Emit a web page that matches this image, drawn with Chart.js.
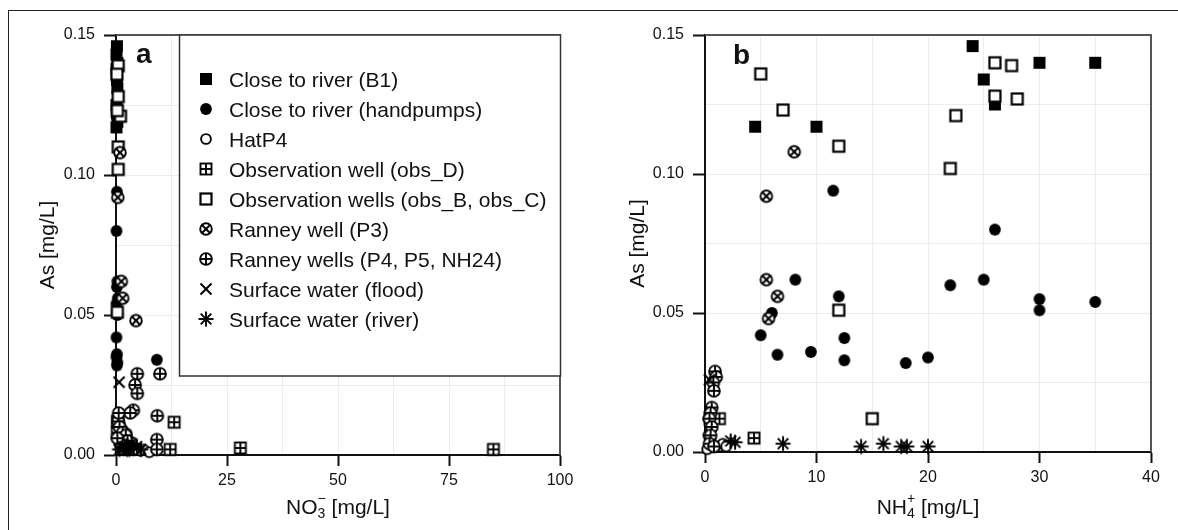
<!DOCTYPE html>
<html>
<head>
<meta charset="utf-8">
<script src="https://cdn.jsdelivr.net/npm/chart.js@4.4.1/dist/chart.umd.min.js"></script>
<style>
  html, body { margin: 0; padding: 0; background: #fff; }
  #page { position: relative; width: 1178px; height: 530px; overflow: hidden; }
  #frame { position: absolute; left: 8px; top: 10px; width: 1300px; height: 700px;
           border-top: 1.5px solid #222; border-left: 1.5px solid #222; }
  canvas { position: absolute; top: 0; }
  #chartA { left: 0; }
  #chartB { left: 590px; }
</style>
</head>
<body>
<div id="page">
  <div id="frame"></div>
  <canvas id="chartA" width="590" height="530"></canvas>
  <canvas id="chartB" width="588" height="530"></canvas>
</div>
<script>
// --- series / tick labels ---
const seriesNames = [
  'Close to river (B1)',
  'Close to river (handpumps)',
  'HatP4',
  'Observation well (obs_D)',
  'Observation wells (obs_B, obs_C)',
  'Ranney well (P3)',
  'Ranney wells (P4, P5, NH24)',
  'Surface water (flood)',
  'Surface water (river)'
];
const markerKinds = ['sqFill', 'circFill', 'circOpen', 'sqPlus', 'sqOpen', 'circX', 'circPlus', 'cross', 'star'];

const no3Ticks = [0, 25, 50, 75, 100];
const nh4Ticks = [0, 10, 20, 30, 40];
const asTicks = [0, 0.05, 0.10, 0.15];

// panel a: [NO3, As] in mg/L
const no3_closeB1 = [[0.2,0.146],[0.1,0.143],[0.3,0.140],[0.1,0.138],[0.2,0.134],[0.3,0.131],[0.1,0.125],[0.2,0.122],[0.3,0.119],[0.1,0.117]];
const no3_handpumps = [[0.2,0.094],[0.1,0.080],[0.3,0.062],[0.2,0.060],[0.4,0.056],[0.1,0.054],[0.2,0.051],[0.3,0.050],[0.1,0.042],[0.2,0.036],[0.1,0.035],[0.3,0.033],[0.2,0.032],[9.2,0.034]];
const no3_hatP4 = [[0.9,0.011],[1.5,0.009],[0.5,0.008],[2.4,0.0077],[1.2,0.006],[2.0,0.004],[3.5,0.0047],[4.6,0.0025],[3.0,0.002],[5.5,0.0015],[6.2,0.002],[1.0,0.002],[7.5,0.001]];
const no3_obsD = [[0.4,0.012],[0.3,0.008],[13.1,0.0117],[12.2,0.002],[28.0,0.0025],[85.0,0.002]];
const no3_obsBC = [[0.5,0.139],[0.2,0.136],[0.5,0.128],[1.0,0.121],[0.3,0.123],[0.5,0.110],[0.5,0.102],[0.3,0.051],[0.4,0.012]];
const no3_ranneyP3 = [[0.9,0.108],[0.4,0.092],[1.2,0.062],[1.5,0.056],[4.5,0.048]];
const no3_ranneyWells = [[4.8,0.029],[9.9,0.029],[4.3,0.025],[4.8,0.022],[3.9,0.016],[3.2,0.015],[9.3,0.014],[9.2,0.0055],[9.2,0.002],[0.5,0.012],[0.8,0.010],[1.5,0.008],[2.2,0.007],[2.6,0.005],[1.0,0.004],[3.2,0.003],[0.3,0.006],[1.8,0.002],[4.0,0.002],[0.6,0.015]];
const no3_flood = [[0.7,0.026]];
const no3_river = [[1.5,0.003],[2.5,0.002],[3.5,0.004],[4.7,0.003],[5.6,0.002],[0.8,0.002],[2.0,0.003],[3.0,0.002]];

// panel b: [NH4, As] in mg/L
const nh4_closeB1 = [[4.5,0.117],[10,0.117],[24,0.146],[25,0.134],[26,0.125],[30,0.140],[35,0.140]];
const nh4_handpumps = [[5,0.042],[6,0.050],[6.5,0.035],[8.1,0.062],[9.5,0.036],[11.5,0.094],[12,0.056],[12.5,0.041],[12.5,0.033],[18,0.032],[20,0.034],[22,0.060],[25,0.062],[26,0.080],[30,0.055],[30,0.051],[35,0.054]];
const nh4_hatP4 = [[0.3,0.012],[0.4,0.010],[0.5,0.008],[0.3,0.006],[0.5,0.004],[0.7,0.002],[1.0,0.002],[1.3,0.002],[1.6,0.003],[0.2,0.001],[0.6,0.011],[0.4,0.014],[1.9,0.002]];
const nh4_obsD = [[1.3,0.012],[4.4,0.005]];
const nh4_obsBC = [[5,0.136],[7,0.123],[12,0.110],[12,0.051],[15,0.012],[22,0.102],[22.5,0.121],[26,0.128],[26,0.140],[27.5,0.139],[28,0.127]];
const nh4_ranneyP3 = [[5.5,0.062],[6.5,0.056],[5.7,0.048],[8,0.108],[5.5,0.092]];
const nh4_ranneyWells = [[0.9,0.029],[1.0,0.027],[0.75,0.025],[0.8,0.022],[0.6,0.016],[0.5,0.014],[0.4,0.012],[0.6,0.009],[0.5,0.006],[0.4,0.003],[0.8,0.002]];
const nh4_flood = [[0.4,0.026]];
const nh4_river = [[2.3,0.004],[2.7,0.0035],[7,0.003],[14,0.002],[16,0.003],[17.6,0.002],[18.1,0.002],[20,0.002]];

const FONT = '"Liberation Sans", Arial, Helvetica, sans-serif';
Chart.defaults.font.family = FONT;
Chart.defaults.color = '#111';

// --- marker glyphs drawn once on small canvases ---
function makeMarker(kind) {
  const c = document.createElement('canvas');
  c.width = 20; c.height = 20;
  const g = c.getContext('2d');
  const m = 10;
  g.strokeStyle = '#000';
  g.fillStyle = '#000';
  g.lineWidth = 1.9;
  const line = (x1, y1, x2, y2) => { g.beginPath(); g.moveTo(m + x1, m + y1); g.lineTo(m + x2, m + y2); g.stroke(); };
  const ring = (r) => { g.beginPath(); g.arc(m, m, r, 0, Math.PI * 2); g.fillStyle = '#fff'; g.fill(); g.stroke(); };
  switch (kind) {
    case 'sqFill': g.fillRect(m - 6, m - 6, 12, 12); break;
    case 'circFill': g.beginPath(); g.arc(m, m, 5.9, 0, Math.PI * 2); g.fill(); break;
    case 'circOpen': ring(4.9); break;
    case 'sqPlus':
      g.fillStyle = '#fff'; g.fillRect(m - 5.5, m - 5.5, 11, 11); g.strokeRect(m - 5.5, m - 5.5, 11, 11);
      line(-5.5, 0, 5.5, 0); line(0, -5.5, 0, 5.5); break;
    case 'sqOpen':
      g.lineWidth = 2.2; g.fillStyle = '#fff'; g.fillRect(m - 5.5, m - 5.5, 11, 11); g.strokeRect(m - 5.5, m - 5.5, 11, 11); break;
    case 'circX': ring(5.8); line(-4, -4, 4, 4); line(-4, 4, 4, -4); break;
    case 'circPlus': ring(5.9); line(-5.9, 0, 5.9, 0); line(0, -5.9, 0, 5.9); break;
    case 'cross': line(-5.5, -5.5, 5.5, 5.5); line(-5.5, 5.5, 5.5, -5.5); break;
    case 'star': line(-7.5, 0, 7.5, 0); line(0, -7.5, 0, 7.5); line(-5.3, -5.3, 5.3, 5.3); line(-5.3, 5.3, 5.3, -5.3); break;
  }
  return c;
}
const markers = markerKinds.map(makeMarker);

const isTick = (list, v) => list.some(t => Math.abs(t - v) < 1e-9);

// --- small plugins: plot frame, panel letter, ion axis title, legend box ---
const plotFrame = {
  id: 'plotFrame',
  beforeDatasetsDraw(chart) {
    const { ctx, chartArea: a } = chart;
    ctx.save();
    ctx.strokeStyle = '#555';
    ctx.lineWidth = 2;
    ctx.beginPath();
    ctx.moveTo(a.left, a.top);
    ctx.lineTo(a.right, a.top);
    ctx.lineTo(a.right, a.bottom);
    ctx.stroke();
    ctx.restore();
  }
};

function letterPlugin(letter, x, y) {
  return {
    id: 'panelLetter',
    afterDraw(chart) {
      const ctx = chart.ctx;
      ctx.save();
      ctx.font = 'bold 28px ' + FONT;
      ctx.fillStyle = '#111';
      ctx.textBaseline = 'alphabetic';
      ctx.fillText(letter, x, y);
      ctx.restore();
    }
  };
}

function ionTitlePlugin(base, sub, sup, rest) {
  return {
    id: 'ionTitle',
    afterDraw(chart) {
      const { ctx, chartArea: a } = chart;
      const big = '21px ' + FONT, small = '14px ' + FONT;
      ctx.save();
      ctx.fillStyle = '#111';
      ctx.textAlign = 'left';
      ctx.textBaseline = 'alphabetic';
      ctx.font = big;
      const wBase = ctx.measureText(base).width, wRest = ctx.measureText(rest).width;
      ctx.font = small;
      const wSub = Math.max(ctx.measureText(sub).width, ctx.measureText(sup).width);
      let x = (a.left + a.right) / 2 - (wBase + wSub + wRest) / 2;
      const y = 514;
      ctx.font = big; ctx.fillText(base, x, y); x += wBase;
      ctx.font = small; ctx.fillText(sub, x, y + 4); ctx.fillText(sup, x, y - 11); x += wSub;
      ctx.font = big; ctx.fillText(rest, x, y);
      ctx.restore();
    }
  };
}

const legendBox = {
  id: 'legendBox',
  afterDraw(chart) {
    const ctx = chart.ctx;
    ctx.save();
    ctx.fillStyle = '#fff';
    ctx.fillRect(179.5, 35, 381, 341);
    ctx.strokeStyle = '#333';
    ctx.lineWidth = 1.5;
    ctx.strokeRect(179.5, 35, 381, 341);
    ctx.font = '21px ' + FONT;
    ctx.fillStyle = '#111';
    ctx.textBaseline = 'alphabetic';
    seriesNames.forEach((name, i) => {
      const cy = 79 + 30 * i;
      const mk = markers[i];
      ctx.drawImage(mk, 206 - mk.width / 2, cy - mk.height / 2);
      ctx.fillText(name, 229, cy + 7.5);
    });
    ctx.restore();
  }
};

// --- chart builder ---
function buildPanel(canvasId, series, xMax, xStep, xTicks, area, canvasW, extraPlugins) {
  return new Chart(document.getElementById(canvasId), {
    type: 'scatter',
    data: {
      datasets: series.map((pts, i) => ({
        label: seriesNames[i],
        data: pts.map(p => ({ x: p[0], y: p[1] })),
        pointStyle: markers[i],
        pointRadius: 6,
        pointHoverRadius: 6,
        order: -i,
        clip: false
      }))
    },
    options: {
      responsive: false,
      animation: false,
      events: [],
      layout: { padding: { top: area.top, right: canvasW - area.right, left: 0, bottom: 0 } },
      plugins: { legend: { display: false }, tooltip: { enabled: false } },
      scales: {
        x: {
          type: 'linear',
          min: 0, max: xMax,
          afterFit: s => { s.height = 530 - area.bottom; },
          border: { display: true, color: '#111', width: 2 },
          grid: {
            color: '#ececec', lineWidth: 1, drawTicks: true, tickLength: 11,
            tickWidth: 2,
            tickColor: ctx => isTick(xTicks, ctx.tick.value) ? '#111' : 'rgba(0,0,0,0)'
          },
          ticks: {
            stepSize: xStep, autoSkip: false, maxRotation: 0, padding: 5,
            font: { size: 16 },
            callback: v => isTick(xTicks, v) ? String(Math.round(v)) : ''
          },
          title: { display: false }
        },
        y: {
          type: 'linear',
          min: 0, max: 0.15,
          afterFit: s => { s.width = area.left; },
          border: { display: true, color: '#111', width: 2 },
          grid: {
            color: '#ececec', lineWidth: 1, drawTicks: true, tickLength: 12,
            tickWidth: 2,
            tickColor: ctx => isTick(asTicks, ctx.tick.value) ? '#111' : 'rgba(0,0,0,0)'
          },
          ticks: {
            stepSize: 0.025, autoSkip: false, padding: 9,
            font: { size: 16 },
            callback: v => isTick(asTicks, v) ? v.toFixed(2) : ''
          },
          title: {
            display: true, text: 'As [mg/L]',
            font: { size: 21 }, color: '#111',
            padding: { top: 36, bottom: 0 }
          }
        }
      }
    },
    plugins: [plotFrame].concat(extraPlugins)
  });
}

buildPanel('chartA',
  [no3_closeB1, no3_handpumps, no3_hatP4, no3_obsD, no3_obsBC, no3_ranneyP3, no3_ranneyWells, no3_flood, no3_river],
  100, 12.5, no3Ticks,
  { left: 116, right: 560, top: 35, bottom: 455 }, 590,
  [letterPlugin('a', 136, 63), ionTitlePlugin('NO', '3', '\u2212', ' [mg/L]'), legendBox]);

buildPanel('chartB',
  [nh4_closeB1, nh4_handpumps, nh4_hatP4, nh4_obsD, nh4_obsBC, nh4_ranneyP3, nh4_ranneyWells, nh4_flood, nh4_river],
  40, 5, nh4Ticks,
  { left: 115, right: 561, top: 35, bottom: 452 }, 588,
  [letterPlugin('b', 143, 64), ionTitlePlugin('NH', '4', '+', ' [mg/L]')]);
</script>
</body>
</html>
